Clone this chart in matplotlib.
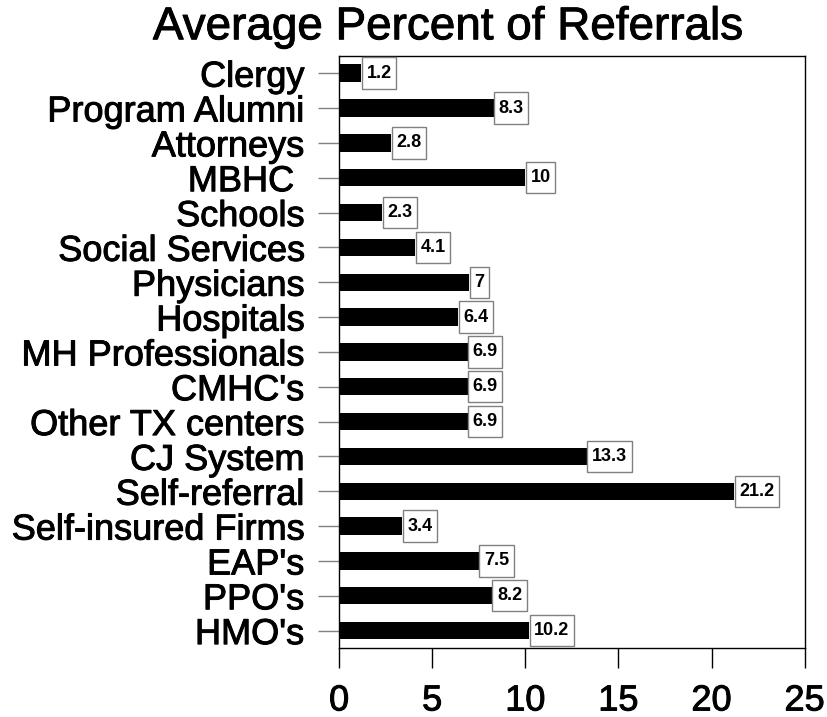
import matplotlib.pyplot as plt
import matplotlib.patheffects as pe
from matplotlib.path import Path

plt.rcParams['font.family'] = ['Liberation Sans', 'DejaVu Sans']

categories = ["Clergy", "Program Alumni", "Attorneys", "MBHC ", "Schools",
              "Social Services", "Physicians", "Hospitals", "MH Professionals",
              "CMHC's", "Other TX centers", "CJ System", "Self-referral",
              "Self-insured Firms", "EAP's", "PPO's", "HMO's"]
values = [1.2, 8.3, 2.8, 10, 2.3, 4.1, 7, 6.4, 6.9, 6.9, 6.9, 13.3, 21.2,
          3.4, 7.5, 8.2, 10.2]
labels = ["1.2", "8.3", "2.8", "10", "2.3", "4.1", "7", "6.4", "6.9", "6.9",
          "6.9", "13.3", "21.2", "3.4", "7.5", "8.2", "10.2"]
xticks = [0, 5, 10, 15, 20, 25]


# box a bit taller than wide padding, like the original labels
class TallBox:
    def __init__(self, px=0.25, py=0.4):
        self.px = px
        self.py = py

    def __call__(self, x0, y0, width, height, mutation_size):
        dx = self.px * mutation_size
        dy = self.py * mutation_size
        x0, y0 = x0 - dx, y0 - dy
        x1, y1 = x0 + width + 2 * dx, y0 + height + 2 * dy
        return Path([(x0, y0), (x1, y0), (x1, y1), (x0, y1), (x0, y0)], closed=True)


heavy = [pe.withStroke(linewidth=0.7, foreground='black')]

fig = plt.figure(figsize=(8.27, 7.17), dpi=100)
ax = fig.add_axes([0.41, 0.0962, 0.563, 0.826])

pos = list(range(len(categories)))
ax.barh(pos, values, height=0.5, color='black')
ax.set_ylim(len(categories) - 0.5, -0.5)
ax.set_xlim(0, 25)

fs = 13
for p, v, lab in zip(pos, values, labels):
    ax.annotate(lab, xy=(v, p), xytext=(0.25 * fs + 0.5, 0), textcoords='offset points',
                ha='left', va='center', fontsize=fs, fontweight='bold',
                bbox=dict(boxstyle=TallBox(), fc='white', ec='#808080', lw=1))

ax.set_yticks(pos)
ax.set_yticklabels(categories, fontsize=26)
ax.set_xticks(xticks)
ax.set_xticklabels([str(t) for t in xticks], fontsize=26)
ax.tick_params(axis='y', length=15, color='#808080', width=1, pad=10)
ax.tick_params(axis='x', length=14.5, color='black', width=1, pad=11)
for t in ax.get_yticklabels() + ax.get_xticklabels():
    t.set_path_effects(heavy)
for s in ax.spines.values():
    s.set_linewidth(1)

fig.text(0.542, 0.962, "Average Percent of Referrals", ha='center', va='center',
         fontsize=33, path_effects=heavy)

fig.savefig("out.png", dpi=100)
